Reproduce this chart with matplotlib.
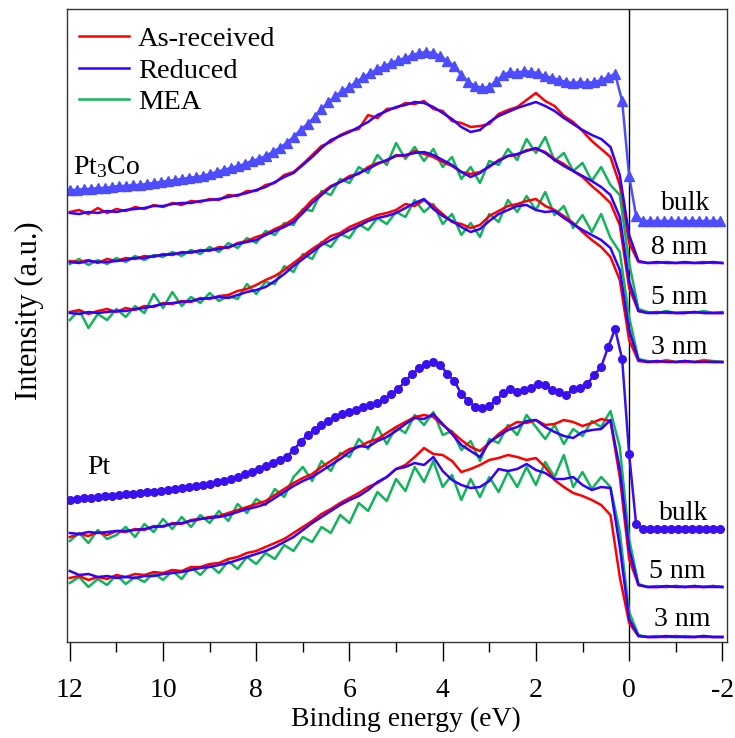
import numpy as np
import matplotlib
matplotlib.use("Agg")
import matplotlib.pyplot as plt

plt.rcParams['font.family'] = ['Liberation Serif', 'DejaVu Serif']
plt.rcParams['mathtext.fontset'] = 'custom'
plt.rcParams['mathtext.rm'] = 'Liberation Serif'
plt.rcParams['mathtext.it'] = 'Liberation Serif:italic'
plt.rcParams['axes.unicode_minus'] = False

# ---------------- data (intensity above each spectrum's baseline, a.u.) ----------------
energy_step_fine = 0.2
energy_step_bulk = 0.15
E = np.round(12 - energy_step_fine * np.arange(71), 2)
E_bulk = np.round(12 - energy_step_bulk * np.arange(94), 2)

pt3co_bulk = [31, 31, 32, 32, 33, 33, 34, 35, 35, 36,
              36, 37, 38, 39, 40, 41, 42, 43, 44, 45,
              47, 49, 51, 53, 55, 57, 60, 62, 65, 69,
              73, 78, 84, 91, 97, 104, 112, 119, 125, 130,
              134, 139, 144, 148, 152, 155, 158, 161, 163, 166,
              168, 169, 168, 165, 160, 155, 146, 139, 135, 133,
              134, 140, 146, 149, 148, 150, 149, 148, 145, 143,
              141, 139, 138, 139, 138, 139, 141, 144, 147, 120,
              45, 5, 0, 0, 0, 0, 0, 0, 0, 0,
              0, 0, 0, 0]

pt3co_8nm_red = [51, 53, 49, 55, 50, 54, 52, 56, 54, 58,
                 56, 60, 58, 62, 61, 64, 63, 68, 67, 72,
                 72, 78, 80, 88, 91, 99, 108, 117, 121, 128,
                 132, 134, 148, 145, 154, 155, 160, 159, 162, 154,
                 152, 142, 140, 136, 137, 139, 149, 153, 156, 163,
                 170, 162, 157, 147, 141, 132, 122, 114, 106, 78,
                 20, 1, 0, 0, 1, 0, 0, 0, 1, 0,
                 0]
pt3co_8nm_blue = [50, 49, 51, 50, 52, 51, 53, 54, 55, 57,
                  57, 59, 60, 60, 62, 63, 64, 66, 68, 70,
                  73, 76, 81, 86, 90, 98, 106, 115, 123, 127,
                  131, 136, 141, 148, 152, 156, 158, 161, 160, 156,
                  150, 144, 136, 131, 133, 141, 147, 151, 155, 158,
                  161, 157, 152, 145, 139, 133, 128, 124, 116, 88,
                  28, 2, 0, 1, 0, 0, 1, 0, 0, 1,
                  0]

pt3co_5nm_red = [52, 51, 53, 50, 54, 52, 55, 54, 57, 56,
                 59, 58, 61, 60, 63, 62, 66, 65, 70, 72,
                 76, 79, 84, 88, 94, 103, 113, 120, 127, 131,
                 137, 139, 146, 150, 152, 158, 157, 162, 159, 156,
                 151, 147, 141, 139, 141, 146, 153, 157, 158, 163,
                 164, 161, 154, 149, 142, 136, 127, 119, 110, 88,
                 25, 2, 0, 1, 0, 0, 0, 1, 0, 0,
                 0]
pt3co_5nm_blue = [51, 50, 52, 51, 51, 52, 53, 55, 55, 57,
                  58, 59, 60, 61, 62, 63, 64, 66, 69, 71,
                  73, 78, 82, 86, 91, 100, 110, 118, 126, 131,
                  135, 140, 144, 149, 153, 157, 158, 160, 161, 158,
                  153, 148, 141, 136, 140, 147, 152, 157, 159, 162,
                  165, 160, 153, 147, 142, 137, 132, 126, 118, 96,
                  32, 2, 0, 0, 1, 0, 0, 1, 0, 0,
                  0]
pt3co_5nm_mea = [49, 54, 48, 53, 49, 55, 51, 57, 53, 58,
                 56, 61, 57, 63, 59, 66, 61, 70, 65, 75,
                 70, 82, 78, 90, 88, 104, 102, 122, 118, 134,
                 130, 146, 140, 158, 148, 170, 154, 166, 152, 164,
                 146, 156, 134, 146, 130, 152, 148, 164, 153, 174,
                 160, 176, 152, 160, 142, 150, 132, 146, 128, 118,
                 50, 4, 1, 0, 2, 0, 1, 0, 2, 0,
                 1]

pt3co_3nm_red = [50, 52, 48, 51, 53, 50, 54, 52, 56, 55,
                 59, 58, 61, 60, 64, 63, 66, 67, 71, 73,
                 77, 82, 86, 92, 99, 106, 113, 119, 126, 129,
                 135, 139, 143, 147, 149, 152, 158, 156, 162, 156,
                 148, 140, 138, 134, 137, 146, 151, 156, 158, 161,
                 163, 156, 152, 146, 139, 130, 122, 115, 105, 82,
                 22, 1, 0, 0, 1, 0, 0, 0, 1, 0,
                 0]
pt3co_3nm_blue = [49, 48, 50, 49, 50, 51, 51, 53, 54, 56,
                  58, 59, 60, 61, 63, 64, 65, 64, 67, 70,
                  72, 75, 81, 88, 96, 103, 110, 117, 122, 127,
                  132, 136, 141, 144, 146, 149, 154, 159, 163, 153,
                  146, 141, 135, 130, 133, 141, 148, 152, 156, 157,
                  152, 150, 151, 144, 138, 132, 127, 122, 114, 92,
                  32, 2, 0, 1, 0, 0, 1, 0, 0, 0,
                  0]
pt3co_3nm_mea = [42, 52, 34, 48, 42, 53, 45, 56, 49, 68,
                 54, 70, 56, 65, 59, 69, 61, 66, 63, 78,
                 68, 80, 78, 96, 90, 108, 103, 120, 115, 128,
                 124, 138, 132, 144, 138, 150, 145, 162, 150, 158,
                 138, 148, 127, 139, 125, 148, 140, 162, 150, 166,
                 152, 170, 147, 156, 134, 147, 130, 148, 124, 110,
                 45, 3, 1, 0, 2, 0, 1, 0, 2, 1,
                 0]

pt_bulk = [29, 30, 31, 31, 32, 33, 33, 34, 35, 35,
           36, 37, 37, 38, 39, 40, 41, 42, 43, 44,
           45, 47, 48, 50, 52, 55, 57, 60, 63, 66,
           69, 72, 79, 87, 94, 99, 104, 108, 112, 115,
           117, 119, 122, 124, 126, 130, 135, 140, 148, 155,
           161, 165, 167, 164, 155, 148, 135, 128, 122, 121,
           123, 129, 136, 140, 137, 139, 141, 145, 144, 139,
           137, 134, 140, 141, 145, 154, 162, 182, 200, 170,
           75, 5, 0, 0, 0, 0, 0, 0, 0, 0,
           0, 0, 0, 0]

pt_5nm_red = [50, 53, 51, 55, 52, 56, 55, 58, 57, 61,
              60, 64, 63, 67, 68, 70, 71, 74, 77, 80,
              83, 86, 92, 98, 104, 109, 113, 120, 126, 132,
              138, 140, 145, 148, 154, 160, 165, 170, 172, 170,
              162, 155, 147, 140, 136, 144, 153, 160, 165, 164,
              167, 162, 163, 167, 165, 161, 164, 168, 166, 110,
              28, 2, 0, 0, 0, 1, 0, 0, 0, 1,
              0]
pt_5nm_blue = [54, 53, 55, 54, 55, 56, 56, 57, 58, 60,
               61, 63, 64, 66, 68, 69, 70, 72, 75, 78,
               80, 83, 89, 95, 101, 106, 110, 116, 122, 128,
               135, 141, 140, 146, 150, 156, 163, 169, 168, 173,
               163, 153, 142, 136, 130, 145, 151, 157, 160, 166,
               167, 160, 155, 151, 149, 155, 157, 158, 167, 118,
               38, 2, 0, 0, 1, 0, 0, 1, 0, 0,
               0]
pt_5nm_mea = [46, 54, 44, 57, 48, 52, 60, 50, 63, 55,
              68, 58, 70, 60, 72, 64, 76, 66, 83, 74,
              88, 82, 98, 90, 110, 120, 106, 126, 116, 134,
              130, 148, 138, 160, 143, 160, 154, 172, 162, 175,
              152, 156, 137, 146, 126, 148, 144, 162, 152, 172,
              160, 148, 162, 143, 158, 151, 166, 160, 176, 140,
              48, 3, 0, 1, 0, 1, 0, 1, 0, 1,
              0]

pt_3nm_red = [59, 61, 57, 60, 58, 62, 60, 63, 62, 65,
              64, 67, 66, 70, 70, 73, 74, 78, 80, 84,
              86, 90, 94, 98, 104, 110, 116, 123, 128, 134,
              139, 144, 150, 154, 160, 168, 172, 180, 189, 183,
              182, 176, 165, 168, 172, 177, 179, 182, 180, 177,
              179, 170, 157, 150, 144, 141, 137, 132, 122, 60,
              14, 1, 0, 0, 0, 1, 0, 0, 0, 0,
              0]
pt_3nm_blue = [66, 62, 63, 60, 61, 59, 60, 59, 61, 61,
               63, 64, 65, 67, 69, 70, 72, 74, 77, 80,
               83, 86, 90, 95, 100, 107, 114, 120, 126, 132,
               137, 141, 147, 155, 160, 168, 170, 174, 172, 180,
               166, 157, 152, 149, 150, 156, 168, 166, 168, 173,
               167, 164, 158, 158, 160, 152, 147, 150, 149, 90,
               18, 1, 0, 0, 1, 0, 0, 0, 1, 0,
               0]
pt_3nm_mea = [54, 60, 50, 58, 52, 62, 53, 60, 55, 64,
              57, 66, 58, 70, 62, 72, 64, 76, 68, 80,
              73, 84, 78, 92, 86, 100, 95, 110, 104, 122,
              114, 134, 126, 145, 136, 158, 146, 170, 155, 176,
              150, 162, 137, 158, 140, 160, 145, 165, 150, 170,
              152, 175, 160, 182, 150, 165, 148, 160, 150, 105,
              25, 2, 0, 1, 0, 0, 1, 0, 1, 0,
              0]

legend_labels = ["As-received", "Reduced", "MEA"]
xticks = [12, 10, 8, 6, 4, 2, 0, -2]

# ---------------- layout / style ----------------
RED = '#ff0000'
BLUE = '#3300ff'
GREEN = '#10b45a'
BULK_TRI = '#4d4dff'
BULK_DOT = '#3a10ee'
LW = 1.8

# vertical offsets of stacked spectra
off = {'co_bulk': 517, 'co_8': 475, 'co_5': 425, 'co_3': 376,
       'pt_bulk': 209, 'pt_5': 151, 'pt_3': 101}

fig = plt.figure(figsize=(7.35, 7.38), dpi=100)
ax = fig.add_axes([67/735, (738-642)/738, 660/735, 633/738])

def add(y, o, c, **kw):
    ax.plot(E, np.asarray(y) + o, color=c, lw=LW, **kw)

# Pt3Co
ax.plot(E_bulk, np.asarray(pt3co_bulk) + off['co_bulk'], color=BULK_TRI, lw=LW,
        marker='^', ms=6.5, mec=BULK_TRI, mfc=BULK_TRI)
add(pt3co_8nm_red, off['co_8'], RED)
add(pt3co_8nm_blue, off['co_8'], BLUE)
add(pt3co_5nm_mea, off['co_5'], GREEN)
add(pt3co_5nm_red, off['co_5'], RED)
add(pt3co_5nm_blue, off['co_5'], BLUE)
add(pt3co_3nm_mea, off['co_3'], GREEN)
add(pt3co_3nm_red, off['co_3'], RED)
add(pt3co_3nm_blue, off['co_3'], BLUE)
# Pt
ax.plot(E_bulk, np.asarray(pt_bulk) + off['pt_bulk'], color=BULK_DOT, lw=LW,
        marker='o', ms=5.5, mec=BULK_DOT, mfc=BULK_DOT)
add(pt_5nm_mea, off['pt_5'], GREEN)
add(pt_5nm_red, off['pt_5'], RED)
add(pt_5nm_blue, off['pt_5'], BLUE)
add(pt_3nm_mea, off['pt_3'], GREEN)
add(pt_3nm_red, off['pt_3'], RED)
add(pt_3nm_blue, off['pt_3'], BLUE)

ax.axvline(0, color='black', lw=1.0, zorder=0)

# legend
handles = [plt.Line2D([], [], color=c, lw=LW) for c in (RED, BLUE, GREEN)]
ax.legend(handles, legend_labels, loc='upper left', bbox_to_anchor=(-0.008, 1.0),
          frameon=False, fontsize=20.5, handlelength=1.75, handletextpad=0.33,
          labelspacing=0.2, borderpad=0.3, borderaxespad=0.3)

# labels on the right
fs = 20
for x, y, s in [(-1.22, 534, 'bulk'), (-1.07, 490, '8 nm'), (-1.07, 441, '5 nm'),
                (-1.07, 391, '3 nm'), (-1.16, 225, 'bulk'), (-1.04, 167, '5 nm'),
                (-1.15, 119, '3 nm')]:
    ax.text(x, y, s, fontsize=fs, ha='center', va='center')
ax.text(11.93, 571, 'Pt$_\\mathrm{3}$Co', fontsize=fs, ha='left', va='center')
ax.text(11.63, 270, 'Pt', fontsize=fs, ha='left', va='center')

ax.set_xlim(12.06, -2.10)
ax.set_ylim(96, 729)
ax.set_xticks(xticks)
ax.set_xticklabels([str(t) for t in xticks])
ax.set_xticks([11, 9, 7, 5, 3, 1, -1], minor=True)
ax.tick_params(axis='x', which='major', direction='out', length=14, width=1.0,
               labelsize=20, pad=12, top=False)
ax.tick_params(axis='x', which='minor', direction='out', length=7, width=1.0, top=False)
ax.set_yticks([])
for s in ax.spines.values():
    s.set_color('#333333')
    s.set_linewidth(1.0)

ax.set_xlabel('Binding energy (eV)', fontsize=20)
ax.xaxis.set_label_coords(0.514, -0.103)
ax.set_ylabel('Intensity (a.u.)', fontsize=22)
ax.yaxis.set_label_coords(-0.035, 0.523)

fig.savefig('out.png', dpi=100)
